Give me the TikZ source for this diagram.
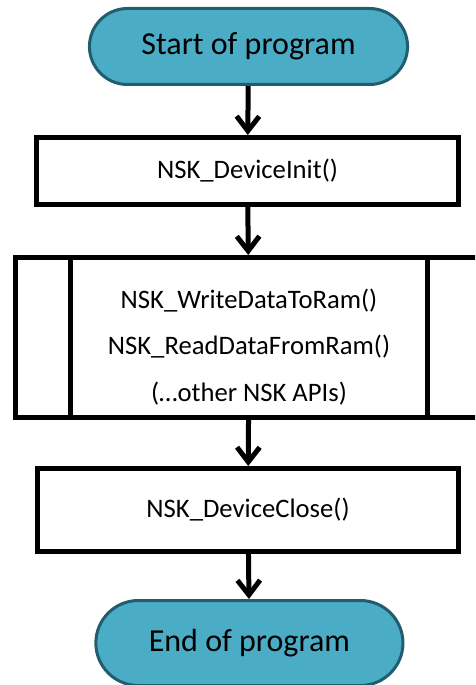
\documentclass[tikz,border=0pt]{standalone}
\usepackage{fontspec}
\setmainfont{Carlito}
\usetikzlibrary{shapes.misc,arrows.meta}

\definecolor{termfill}{HTML}{4BACC6}
\definecolor{termline}{HTML}{215D6E}

\tikzset{
  terminal/.style={rounded rectangle,draw=termline,fill=termfill,line width=2.25pt,
    font=\fontsize{24}{28}\selectfont},
  procbox/.style={rectangle,draw,line width=3.75pt,font=\fontsize{20}{35}\selectfont},
  flow/.style={line width=3.75pt,-{Straight Barb[length=11pt,width=17pt]}}
}

\begin{document}
\begin{tikzpicture}[x=0.75pt,y=-0.75pt]
  \useasboundingbox (0,0) rectangle (475,685);
  \clip (0,0) rectangle (475,685);

  % terminals and plain steps
  \node[terminal,minimum width=245.25pt,minimum height=57pt] (start) at (248.5,46.5) {Start of program};
  \node[procbox,minimum width=316.5pt,minimum height=50.25pt] (init) at (247.5,171) {NSK\_DeviceInit()};

  % predefined process: box with two inner bars
  \node[procbox,minimum width=350.25pt,minimum height=120pt,align=center] (api) at (249,337.5)
    {\raisebox{-6pt}[\height][\depth]{\begin{tabular}{c}
      NSK\_WriteDataToRam()\\
      NSK\_ReadDataFromRam()\\
      (…other NSK APIs)
    \end{tabular}}};
  \draw[line width=3.75pt] ([xshift=43pt]api.north west) -- ([xshift=43pt]api.south west);
  \draw[line width=3.75pt] ([xshift=-43pt]api.north east) -- ([xshift=-43pt]api.south east);

  \node[procbox,minimum width=315.75pt,minimum height=62.25pt] (close) at (248,510) {NSK\_DeviceClose()};
  \node[terminal,minimum width=237pt,minimum height=63.75pt] (stop) at (249.4,643) {End of program};

  % connectors
  \draw[flow] (start) -- (init);
  \draw[flow] (init) -- (api);
  \draw[flow] (api) -- (close);
  \draw[flow] (close) -- (stop);
\end{tikzpicture}
\end{document}
